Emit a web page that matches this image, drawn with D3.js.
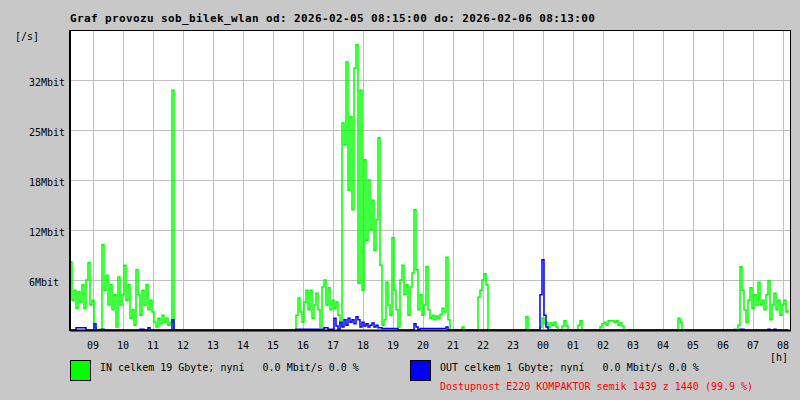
<!DOCTYPE html>
<html><head><meta charset="utf-8">
<script src="https://cdn.jsdelivr.net/npm/d3@7"></script>
<style>
html,body{margin:0;padding:0;background:#c8c8c8;}
svg{display:block;}
text{font-family:"DejaVu Sans Mono",monospace;}
</style></head>
<body><svg id="chart" width="800" height="400"></svg>
<script>
// ---- data (Mbit/s, one sample every 4 minutes from 2026-02-05 08:15) ----
const titleText = "Graf provozu sob_bilek_wlan od: 2026-02-05 08:15:00 do: 2026-02-06 08:13:00";
const sampleMinutes = 4;
const inMbit = [
8.7,3.8,5.1,2.8,4.9,3.6,5.8,2.8,6.4,8.6, 3.2,3.8,0.4,0,0,0.1,10.9,5.1,7.0,3.2,
5.8,2.6,4.5,0.4,6.8,3.2,4.5,8.3,3.8,5.8, 1.5,2.6,0.6,7.7,4.5,1.9,5.1,3.2,5.8,2.6,
3.8,2.3,1.0,0.4,1.5,0.8,1.9,1.0,1.5,0.6, 1.0,30.7,0,0,0,0,0,0,0,0,
0,0,0,0,0,0,0,0,0,0, 0,0,0,0,0,0,0,0,0,0,
0,0,0,0,0,0,0,0,0,0, 0,0,0,0,0,0,0,0,0,0,
0,0,0,0,0,0,0,0,0,0, 0,0,0,1.9,4.1,2.3,1.0,3.6,5.1,2.6,
5.1,1.5,3.2,4.7,2.6,0.4,5.5,6.4,3.2,5.4, 2.6,3.8,2.8,3.6,1.9,0.6,26.5,23.7,34.3,17.9,
27.3,15.4,33.5,36.5,6.0,30.7,5.1,21.8,11.5,19.2, 12.8,16.6,10.2,14.1,24.6,8.3,0.6,1.3,6.1,3.2,
1.9,11.8,5.1,2.6,0.4,6.4,8.3,4.5,5.8,1.9, 5.5,7.3,15.4,7.7,2.6,4.5,1.9,3.2,8.1,2.6,
1.5,1.9,1.3,1.8,1.5,2.0,2.8,2.3,9.3,1.3, 0,0,0,0,0,0,0.4,0,0,0,
0,0,0,0,4.2,5.1,6.4,7.2,5.8,0, 0,0,0,0,0,0,0,0,0,0,
0,0,0,0,0,0,0,0,1.7,0, 0,0,0,0,0,0.4,1.5,0.8,1.0,0.3,
0.9,0.6,1.0,0.4,0,0,0.5,1.2,0.5,0, 0,0,0,0,0.6,1.2,0,0,0,0,
0,0,0,0,0,0.4,0.8,1.0,0.6,1.2, 1.2,1.2,1.0,1.2,0.6,0.9,0.5,0,0,0,
0,0,0,0,0,0,0,0,0,0, 0,0,0,0,0,0,0,0,0,0,
0,0,0,0,1.5,1.0,0,0,0,0, 0,0,0,0,0,0,0,0,0,0,
0,0,0,0,0,0,0,0,0,0, 0,0,0.1,0,0.6,8.1,5.1,2.6,1.0,3.8,
5.4,2.8,4.5,3.2,6.1,3.2,3.8,2.6,4.5,6.3, 1.3,3.2,4.7,2.6,3.8,1.9,3.2,3.8,2.3,2.6
];
const outMbit = [
0,0,0,0.3,0.3,0.3,0.3,0.3,0,0, 0,0,0.8,0,0,0,0.1,0,0,0,
0,0,0,0,0,0,0,0,0,0, 0,0,0,0,0,0.1,0.1,0,0,0.3,
0,0,0,0,0,0,0,0,0,0, 0,1.3,0,0,0,0,0,0,0,0,
0,0,0,0,0,0,0,0,0,0, 0,0,0,0,0,0,0,0,0,0,
0,0,0,0,0,0,0,0,0,0, 0,0,0,0,0,0,0,0,0,0,
0,0,0,0,0,0,0,0,0,0, 0,0,0,0.1,0.1,0.1,0.1,0.1,0.1,0.1,
0.1,0.1,0.1,0.1,0.1,0.1,0.1,0.3,0.3,0.1, 0.1,0.1,1.5,0.5,0.1,1.0,0.4,1.3,0.6,1.5,
1.0,1.3,0.8,1.7,1.3,0.4,1.0,0.5,0.8,0.4, 0.6,0.9,0.4,0.6,0.3,0.3,0.2,0.2,0.2,0.2,
0.2,0.2,0.2,0.2,0,0,0,0,0,0, 0,0,0.8,0.4,0,0.2,0.2,0.2,0.2,0.2,
0.2,0.2,0.2,0.2,0.2,0.2,0.2,0.2,0.4,0, 0,0,0,0,0,0,0,0,0,0,
0,0,0,0,0,0,0,0,0,0, 0,0,0,0,0,0,0,0,0,0,
0,0,0,0,0,0,0,0,0,0, 0,0,0,0,0,4.5,9.0,1.9,0.4,0,
0,0,0,0,0,0,0,0,0,0, 0,0,0,0,0,0,0,0,0,0,
0,0,0,0,0,0,0,0,0,0, 0,0,0,0,0,0,0,0,0,0,
0,0,0,0,0,0,0,0,0,0, 0,0,0,0,0,0,0,0,0,0,
0,0,0,0,0,0,0,0,0,0, 0,0,0,0,0,0,0,0,0,0,
0,0,0,0,0,0,0,0,0,0, 0,0,0,0,0,0.1,0.1,0,0,0,
0,0,0,0,0,0,0,0,0,0.1, 0,0,0.1,0,0,0,0,0,0,0
];
const yTickValues = [6.4, 12.8, 19.2, 25.6, 32.0];
const yTickLabels = ["6Mbit", "12Mbit", "18Mbit", "25Mbit", "32Mbit"];
const hourLabels = ["09","10","11","12","13","14","15","16","17","18","19","20","21","22","23","00","01","02","03","04","05","06","07","08"];
const legendTexts = ["IN celkem 19 Gbyte; nyní   0.0 Mbit/s 0.0 %", "OUT celkem 1 Gbyte; nyní   0.0 Mbit/s 0.0 %"];
const seriesColors = ["#00ff00", "#0000ff"];
const availabilityText = "Dostupnost E220 KOMPAKTOR semik 1439 z 1440 (99.9 %)";

// ---- layout ----
const L = 70, R = 790, T = 30, B = 330;
const start = new Date(2026, 1, 5, 8, 15);
const end = new Date(2026, 1, 6, 8, 15);
const x = d3.scaleTime().domain([start, end]).range([L, R]);
const y = d3.scaleLinear().domain([0, 38.4]).range([B, T]);
const svg = d3.select("#chart");

svg.append("rect").attr("x",0).attr("y",0).attr("width",800).attr("height",400).attr("fill","#c8c8c8");
svg.append("rect").attr("x",L).attr("y",T).attr("width",R-L).attr("height",B-T).attr("fill","#ffffff");

const hourTimes = hourLabels.map((h,i)=> d3.timeHour.offset(new Date(2026,1,5,9,0), i));

// vertical grid
svg.append("g").attr("transform",`translate(0,${B})`)
  .call(d3.axisBottom(x).tickValues(hourTimes).tickSize(-(B-T)).tickFormat(""))
  .call(g=>{g.select(".domain").remove(); g.selectAll("line").attr("stroke","#c0c0c0").attr("shape-rendering","crispEdges");});
// horizontal grid
svg.append("g").attr("transform",`translate(${L},0)`)
  .call(d3.axisLeft(y).tickValues(yTickValues).tickSize(-(R-L)).tickFormat(""))
  .call(g=>{g.select(".domain").remove(); g.selectAll("line").attr("stroke","#c0c0c0").attr("shape-rendering","crispEdges");});

// data lines
svg.append("clipPath").attr("id","clip").append("rect").attr("x",L).attr("y",T).attr("width",R-L).attr("height",B-T+1);
const tAt = i => d3.timeMinute.offset(start, i*sampleMinutes);
const line = d3.line().x((d,i)=>x(tAt(i))).y(d=>y(d)).curve(d3.curveStepAfter);
[inMbit, outMbit].forEach((arr,k)=>{
  svg.append("path").attr("d", line(arr)).attr("fill","none")
    .attr("stroke", seriesColors[k]).attr("stroke-width",1.5).attr("clip-path","url(#clip)");
});

// frame
svg.append("rect").attr("x",L+0.5).attr("y",T+0.5).attr("width",R-L).attr("height",B-T)
  .attr("fill","none").attr("stroke","#000").attr("stroke-width",1).attr("shape-rendering","crispEdges");
svg.append("line").attr("x1",L).attr("x2",R+1).attr("y1",B+0.5).attr("y2",B+0.5).attr("stroke","#000").attr("stroke-width",2);
svg.append("line").attr("x1",L).attr("x2",L).attr("y1",T).attr("y2",B+1).attr("stroke","#000").attr("stroke-width",2);

// y labels
svg.append("g").selectAll("text").data(yTickValues).join("text")
  .attr("x",29).attr("y",d=>y(d)+6).attr("font-size",10).attr("fill","#000")
  .text((d,i)=>yTickLabels[i]);
svg.append("text").attr("x",15).attr("y",40).attr("font-size",10).text("[/s]");

// x labels
svg.append("g").attr("transform",`translate(0,${B})`)
  .call(d3.axisBottom(x).tickValues(hourTimes).tickSize(0).tickPadding(12).tickFormat((d,i)=>hourLabels[i]))
  .call(g=>{g.select(".domain").remove(); g.selectAll("text").attr("font-family","DejaVu Sans Mono, monospace").attr("font-size",10).attr("fill","#000");});
svg.append("text").attr("x",770).attr("y",361).attr("font-size",10).text("[h]");

// title
svg.append("text").attr("x",70).attr("y",22).attr("font-size",11).attr("font-weight","bold")
  .attr("letter-spacing","0.38px").text(titleText);

// legend
const legendX = [70, 410];
legendTexts.forEach((t,k)=>{
  svg.append("rect").attr("x",legendX[k]+0.5).attr("y",360.5).attr("width",20).attr("height",20)
    .attr("fill",seriesColors[k]).attr("stroke","#000").attr("stroke-width",1);
  svg.append("text").attr("x",legendX[k]+30).attr("y",371).attr("font-size",10)
    .attr("xml:space","preserve").style("white-space","pre").text(t);
});
svg.append("text").attr("x",440).attr("y",390).attr("font-size",10).attr("fill","#ff0000").text(availabilityText);
</script></body></html>
